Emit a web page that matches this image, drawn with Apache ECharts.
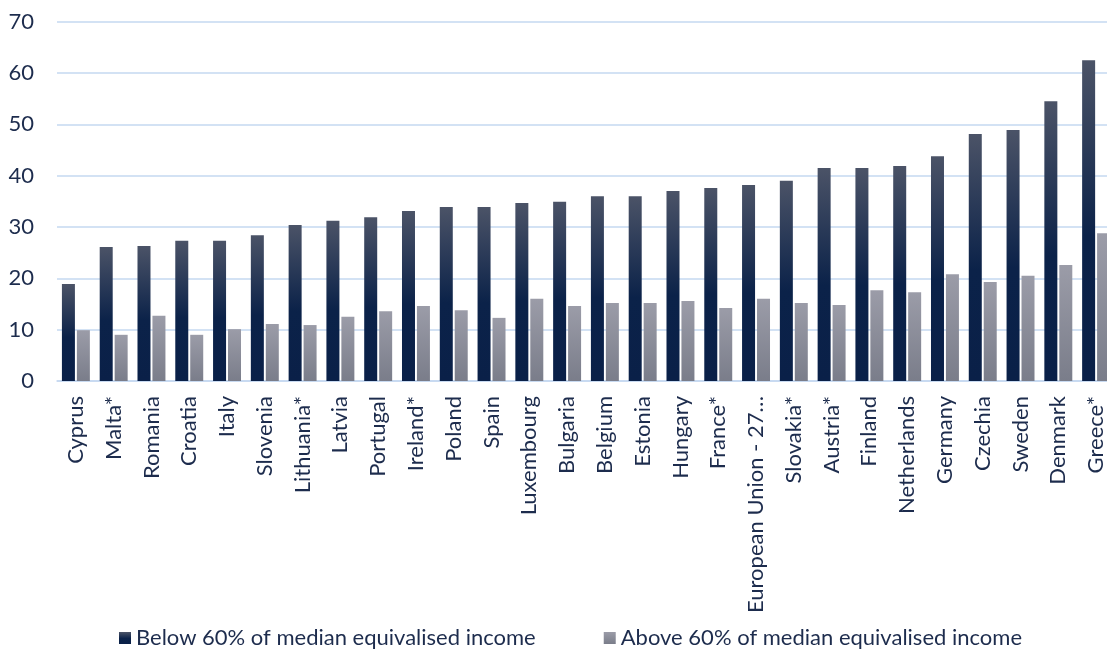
<!DOCTYPE html>
<html>
<head>
<meta charset="utf-8">
<script src="https://cdn.jsdelivr.net/npm/echarts@6/dist/echarts.min.js"></script>
<style>
  html, body { margin: 0; padding: 0; background: #ffffff; }
  #chart { width: 1107px; height: 650px; }
</style>
</head>
<body>
<div id="chart"></div>
<script>
// Countries, sorted by the share below the poverty threshold
const categories = [
  'Cyprus', 'Malta*', 'Romania', 'Croatia', 'Italy', 'Slovenia', 'Lithuania*',
  'Latvia', 'Portugal', 'Ireland*', 'Poland', 'Spain', 'Luxembourg', 'Bulgaria',
  'Belgium', 'Estonia', 'Hungary', 'France*', 'European Union - 27 countries (from 2020)',
  'Slovakia*', 'Austria*', 'Finland', 'Netherlands', 'Germany', 'Czechia',
  'Sweden', 'Denmark', 'Greece*'
];

const belowValues = [
  18.9, 26.1, 26.3, 27.3, 27.3, 28.4, 30.4, 31.2, 31.9, 33.1, 33.9, 33.9, 34.7, 34.9,
  36.0, 36.0, 37.0, 37.6, 38.2, 39.0, 41.5, 41.5, 41.9, 43.8, 48.1, 48.9, 54.5, 62.5
];

const aboveValues = [
  9.9, 9.0, 12.7, 9.0, 10.1, 11.1, 10.9, 12.5, 13.6, 14.6, 13.8, 12.3, 16.0, 14.6,
  15.2, 15.2, 15.6, 14.2, 16.0, 15.2, 14.8, 17.7, 17.3, 20.8, 19.3, 20.5, 22.6, 28.8
];

const seriesNames = [
  'Below 60% of median equivalised income',
  'Above 60% of median equivalised income'
];

const yTicks = { min: 0, max: 70, interval: 10 };

const textColor = '#1d2c4d';
const gridColor = '#c5d8f0';
const fontFamily = 'Lato, "Open Sans", sans-serif';
const maxLabelChars = 19;

const navyFill = new echarts.graphic.LinearGradient(0, 0, 0, 1, [
  { offset: 0, color: '#4b5367' },
  { offset: 0.55, color: '#0b2249' },
  { offset: 1, color: '#0a2048' }
]);
const greyFill = new echarts.graphic.LinearGradient(0, 0, 0, 1, [
  { offset: 0, color: '#9b9ca8' },
  { offset: 1, color: '#7a7d8a' }
]);

const chart = echarts.init(document.getElementById('chart'), null, { renderer: 'canvas' });

chart.setOption({
  animation: false,
  backgroundColor: '#ffffff',
  textStyle: { fontFamily: fontFamily, color: textColor },
  grid: {
    left: 57, right: -8, top: 21.7, bottom: 269,
    containLabel: false,
    outerBoundsMode: 'none'
  },
  legend: {
    data: seriesNames,
    top: 622,
    left: 114,
    itemWidth: 12,
    itemHeight: 12,
    itemGap: 68,
    icon: 'rect',
    textStyle: { fontSize: 22, color: textColor, fontFamily: fontFamily }
  },
  xAxis: {
    type: 'category',
    data: categories,
    axisLine: { show: true, lineStyle: { color: gridColor, width: 1.5 } },
    axisTick: { show: false },
    axisLabel: {
      interval: 0,
      rotate: 90,
      margin: 15,
      fontSize: 22,
      color: textColor,
      fontFamily: fontFamily,
      // long names are cut short with an ellipsis
      formatter: (v) => v.length > maxLabelChars ? v.slice(0, maxLabelChars) + '…' : v
    }
  },
  yAxis: {
    type: 'value',
    min: yTicks.min,
    max: yTicks.max,
    interval: yTicks.interval,
    axisLine: { show: false },
    axisTick: { show: false },
    axisLabel: { fontSize: 22, color: textColor, margin: 23, fontFamily: fontFamily },
    splitLine: { lineStyle: { color: gridColor, width: 1.5 } }
  },
  series: [
    {
      name: seriesNames[0],
      type: 'bar',
      data: belowValues,
      barWidth: 13,
      barGap: '15%',
      itemStyle: { color: navyFill }
    },
    {
      name: seriesNames[1],
      type: 'bar',
      data: aboveValues,
      barWidth: 13,
      barGap: '15%',
      itemStyle: { color: greyFill }
    }
  ]
});
</script>
</body>
</html>
